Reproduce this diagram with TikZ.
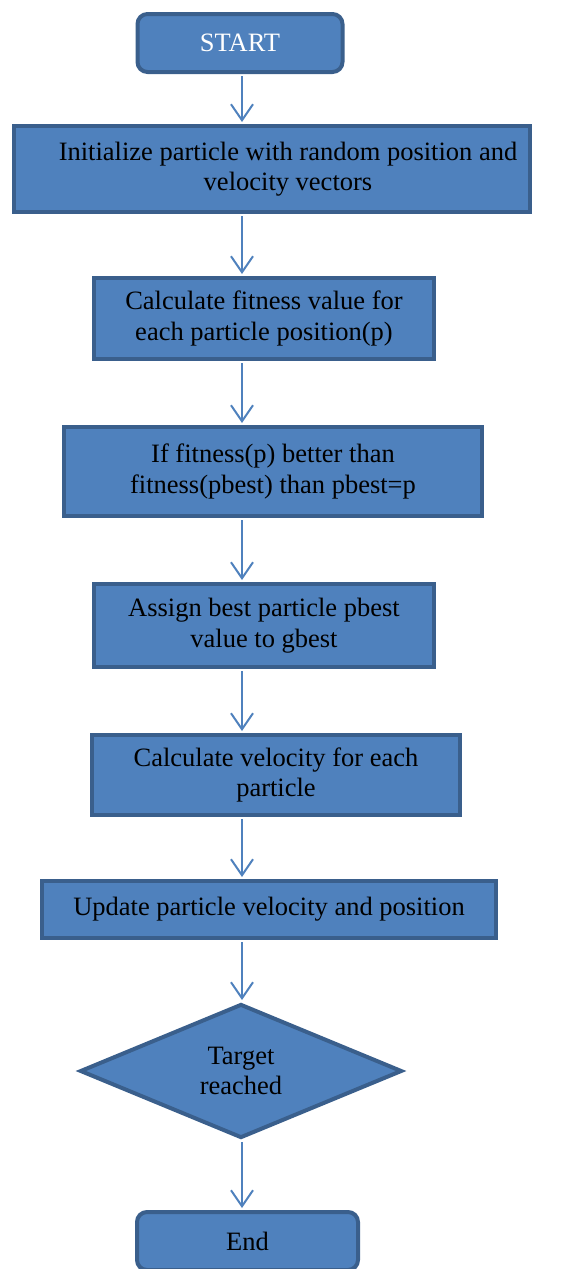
\documentclass[tikz,border=0pt]{standalone}
\usepackage{fontspec}
\setmainfont{Liberation Serif}
\usetikzlibrary{shapes.geometric,arrows.meta}
\definecolor{boxfill}{HTML}{4F81BD}
\definecolor{boxline}{HTML}{3A5F8C}
\begin{document}
\begin{tikzpicture}[x=1pt,y=-1pt]
            \tikzstyle{stepbox}=[draw=boxline,fill=boxfill,line width=4pt,align=center,inner sep=0pt,font=\fontsize{26.5}{30.5}\selectfont]
            \tikzstyle{terminal}=[stepbox,rounded corners=10pt,text=white]
            \tikzstyle{decision}=[stepbox,diamond,aspect=2.36,minimum width=322pt,minimum height=134pt]
            \tikzstyle{flow}=[draw=boxfill,line width=2pt,shorten <=2pt,shorten >=2pt,-{Straight Barb[length=16pt,width=22pt,line width=2pt]}]
            \useasboundingbox (0,0) rectangle (563,1269);
            \coordinate (axis) at (242,0);
            \node[terminal,minimum width=205pt,minimum height=58pt] (start) at (240,43) {START};
            \node[stepbox,minimum width=516pt,minimum height=86pt] (init) at (272,169) {\hspace*{32pt}Initialize particle with random position and\\\hspace*{32pt}velocity vectors};
            \node[stepbox,minimum width=340pt,minimum height=81pt] (fitness) at (264,318.5) {Calculate fitness value for\\each particle position(p)};
            \node[stepbox,minimum width=418pt,minimum height=89pt] (pbest) at (273,471.5) {If fitness(p) better than\\fitness(pbest) than pbest=p};
            \node[stepbox,minimum width=340pt,minimum height=83pt] (gbest) at (264,625.5) {Assign best particle pbest\\value to gbest};
            \node[stepbox,minimum width=368pt,minimum height=80pt] (velocity) at (276,775) {Calculate velocity for each\\particle};
            \node[stepbox,minimum width=454pt,minimum height=57pt] (update) at (269,909.5) {Update particle velocity and position};
            \node[decision] (target) at (241,1071) {Target\\reached};
            \node[terminal,text=black,minimum width=221pt,minimum height=58pt] (end) at (247.5,1241) {End};
            % connectors
            \draw[flow] (start.south -| axis) -- (init.north -| axis);
            \draw[flow] (init.south -| axis) -- (fitness.north -| axis);
            \draw[flow] (fitness.south -| axis) -- (pbest.north -| axis);
            \draw[flow] (pbest.south -| axis) -- (gbest.north -| axis);
            \draw[flow] (gbest.south -| axis) -- (velocity.north -| axis);
            \draw[flow] (velocity.south -| axis) -- (update.north -| axis);
            \draw[flow] (update.south -| axis) -- (target.north -| axis);
            \draw[flow] (target.south -| axis) -- (end.north -| axis);
        \end{tikzpicture}
\end{document}
